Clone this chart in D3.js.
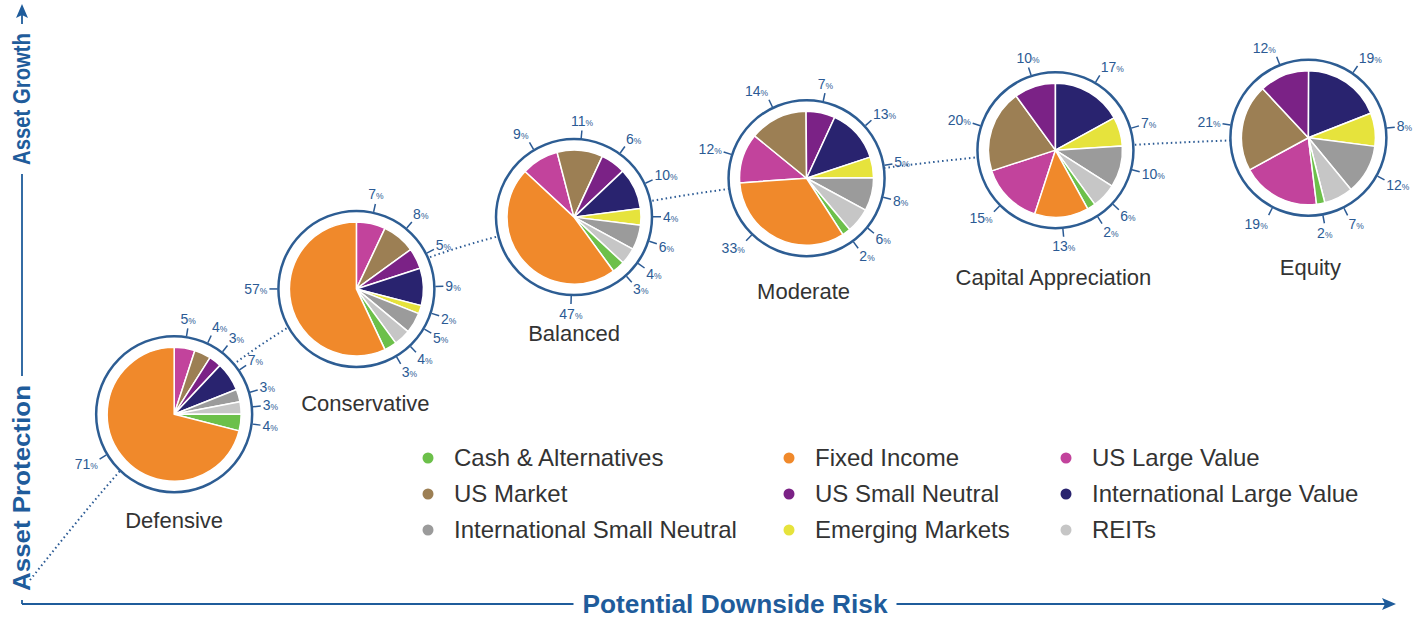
<!DOCTYPE html>
<html>
<head>
<meta charset="utf-8">
<script src="https://cdn.jsdelivr.net/npm/d3@7"></script>
<style>
  body { margin: 0; background: #fff; }
  svg { display: block; font-family: "Liberation Sans", Arial, sans-serif; }
</style>
</head>
<body>
<svg id="chart" width="1419" height="617"></svg>
<script>
// slice order (clockwise) used in every pie
var assetClasses = ["US Large Value", "US Market", "US Small Neutral", "International Large Value",
  "Emerging Markets", "International Small Neutral", "REITs", "Cash & Alternatives", "Fixed Income"];
var assetColors = ["#c2439c", "#9c7f54", "#7b2286", "#29236f",
  "#e6e33c", "#9b9b9b", "#c6c6c6", "#6cc04a", "#f0892b"];

var portfolios = ["Defensive", "Conservative", "Balanced", "Moderate", "Capital Appreciation", "Equity"];
var defensive = [5, 4, 3, 7, 0, 3, 3, 4, 71];
var conservative = [7, 8, 5, 9, 2, 5, 4, 3, 57];
var balanced = [9, 11, 6, 10, 4, 6, 4, 3, 47];
var moderate = [12, 14, 7, 13, 5, 8, 6, 2, 33];
var capitalAppreciation = [15, 20, 10, 17, 7, 10, 6, 2, 13];
var equity = [19, 21, 12, 19, 8, 12, 7, 2, 0];

// where each portfolio sits on the risk / growth plane (0-100)
var riskLevel = [10.6, 24, 40, 57.1, 75.4, 94];
var growthLevel = [30.7, 53.9, 67.2, 74.4, 79.6, 81.9];

var legendOrder = ["Cash & Alternatives", "Fixed Income", "US Large Value",
  "US Market", "US Small Neutral", "International Large Value",
  "International Small Neutral", "Emerging Markets", "REITs"];

// layout bits (degrees, clockwise from 12 o'clock)
var pieStart = [0, 0, -47, -94, -162, -187];
var fixedIncomeLabelAt = [239, 270, 182, 224, null, null];
var nameOffset = [[0, 106], [9, 114], [0, 116], [-3, 113], [-2, 127], [2, 130]];

var BLUE = "#2b5a94";
var TITLE_BLUE = "#1f5c9b";
var PIE_R = 67, RING_R = 78;

var svg = d3.select("#chart");
var x = d3.scaleLinear().domain([0, 100]).range([30, 1390]);
var y = d3.scaleLinear().domain([0, 100]).range([580, 40]);
var color = d3.scaleOrdinal().domain(assetClasses).range(assetColors);
var allocations = [defensive, conservative, balanced, moderate, capitalAppreciation, equity];

var rad = function (deg) { return deg * Math.PI / 180; };

// dotted path through the portfolios
var pathPts = [[0, 0]].concat(riskLevel.map(function (r, i) { return [r, growthLevel[i]]; }));
svg.append("path").datum(pathPts)
    .attr("d", d3.line()
        .x(function (d) { return x(d[0]); })
        .y(function (d) { return y(d[1]); })
        .curve(d3.curveMonotoneX))
    .attr("fill", "none")
    .attr("stroke", BLUE)
    .attr("stroke-width", 2)
    .attr("stroke-dasharray", "1.5,3");

var arc = d3.arc().innerRadius(0).outerRadius(PIE_R);

portfolios.forEach(function (name, i) {
  var cx = x(riskLevel[i]), cy = y(growthLevel[i]);
  var g = svg.append("g").attr("transform", "translate(" + cx + "," + cy + ")");

  g.append("circle")
      .attr("r", RING_R)
      .attr("fill", "#fff")
      .attr("stroke", "#2d5d93")
      .attr("stroke-width", 2.5);

  var s = rad(pieStart[i]);
  var pie = d3.pie().sort(null)
      .value(function (d) { return d.value; })
      .startAngle(s).endAngle(s + 2 * Math.PI);
  var data = assetClasses.map(function (c, k) { return {cls: c, value: allocations[i][k]}; });
  var arcs = pie(data).filter(function (d) { return d.data.value > 0; });

  g.selectAll("path.slice").data(arcs).enter().append("path")
      .attr("class", "slice")
      .attr("d", arc)
      .attr("fill", function (d) { return color(d.data.cls); })
      .attr("stroke", "#fff")
      .attr("stroke-width", 1.5)
      .attr("stroke-linejoin", "round");

  arcs.forEach(function (d) {
    var a = (d.data.cls === "Fixed Income" && fixedIncomeLabelAt[i] !== null)
        ? rad(fixedIncomeLabelAt[i]) : (d.startAngle + d.endAngle) / 2;
    var sx = Math.sin(a), sy = -Math.cos(a);
    g.append("line")
        .attr("x1", sx * (RING_R + 1)).attr("y1", sy * (RING_R + 1))
        .attr("x2", sx * (RING_R + 9)).attr("y2", sy * (RING_R + 9))
        .attr("stroke", BLUE).attr("stroke-width", 1.5);
    var anchor = sx > 0.35 ? "start" : (sx < -0.35 ? "end" : "middle");
    var t = g.append("text")
        .attr("x", sx * (RING_R + 11))
        .attr("y", sy * (RING_R + 11))
        .attr("dy", (0.35 + 0.55 * sy).toFixed(2) + "em")
        .attr("text-anchor", anchor)
        .attr("fill", BLUE)
        .attr("font-size", 14);
    t.append("tspan").text(d.data.value);
    t.append("tspan").attr("font-size", 8.5).text("%");
  });

  svg.append("text")
      .attr("x", cx + nameOffset[i][0])
      .attr("y", cy + nameOffset[i][1])
      .attr("dy", "0.35em")
      .attr("text-anchor", "middle")
      .attr("fill", "#333")
      .attr("font-size", 22)
      .text(name);
});

// legend
var legend = svg.append("g");
legendOrder.forEach(function (c, k) {
  var lx = [428, 789, 1066][k % 3], ly = [458, 494, 530][Math.floor(k / 3)];
  legend.append("circle").attr("cx", lx).attr("cy", ly).attr("r", 5.5).attr("fill", color(c));
  legend.append("text").attr("x", lx + 26).attr("y", ly).attr("dy", "0.35em")
      .attr("fill", "#333").attr("font-size", 24).text(c);
});

// axes
var AX = 22, AY = 604, GAP = 9;
var axis = svg.append("g").attr("stroke", TITLE_BLUE).attr("stroke-width", 1.8);

var xTitle = svg.append("text")
    .attr("x", 735).attr("y", AY).attr("dy", "0.35em")
    .attr("text-anchor", "middle").attr("fill", TITLE_BLUE)
    .attr("font-size", 25).attr("font-weight", "bold")
    .attr("textLength", 305).attr("lengthAdjust", "spacingAndGlyphs")
    .text("Potential Downside Risk");
var xw = 305;
axis.append("line").attr("x1", AX).attr("y1", AY).attr("x2", 735 - xw / 2 - GAP).attr("y2", AY);
axis.append("line").attr("x1", 735 + xw / 2 + GAP).attr("y1", AY).attr("x2", 1385).attr("y2", AY);
svg.append("path").attr("d", "M1396," + AY + "L1382," + (AY - 6) + "L1385," + AY + "L1382," + (AY + 6) + "Z")
    .attr("fill", TITLE_BLUE);

var yLabels = [{t: "Asset Protection", c: 488, w: 206}, {t: "Asset Growth", c: 99, w: 132}];
var spans = yLabels.map(function (l) {
  svg.append("text")
      .attr("transform", "translate(" + AX + "," + l.c + ") rotate(-90)")
      .attr("dy", "0.35em")
      .attr("text-anchor", "middle").attr("fill", TITLE_BLUE)
      .attr("font-size", 23).attr("font-weight", "bold")
      .attr("textLength", l.w).attr("lengthAdjust", "spacingAndGlyphs")
      .text(l.t);
  return [l.c - l.w / 2, l.c + l.w / 2];
});
axis.append("line").attr("x1", AX).attr("y1", AY).attr("x2", AX).attr("y2", spans[0][1] + GAP);
axis.append("line").attr("x1", AX).attr("y1", spans[0][0] - GAP).attr("x2", AX).attr("y2", spans[1][1] + GAP);
axis.append("line").attr("x1", AX).attr("y1", spans[1][0] - GAP).attr("x2", AX).attr("y2", 14);
svg.append("path").attr("d", "M" + AX + ",4L" + (AX - 6) + ",18L" + AX + ",15L" + (AX + 6) + ",18Z")
    .attr("fill", TITLE_BLUE);
</script>
</body>
</html>
